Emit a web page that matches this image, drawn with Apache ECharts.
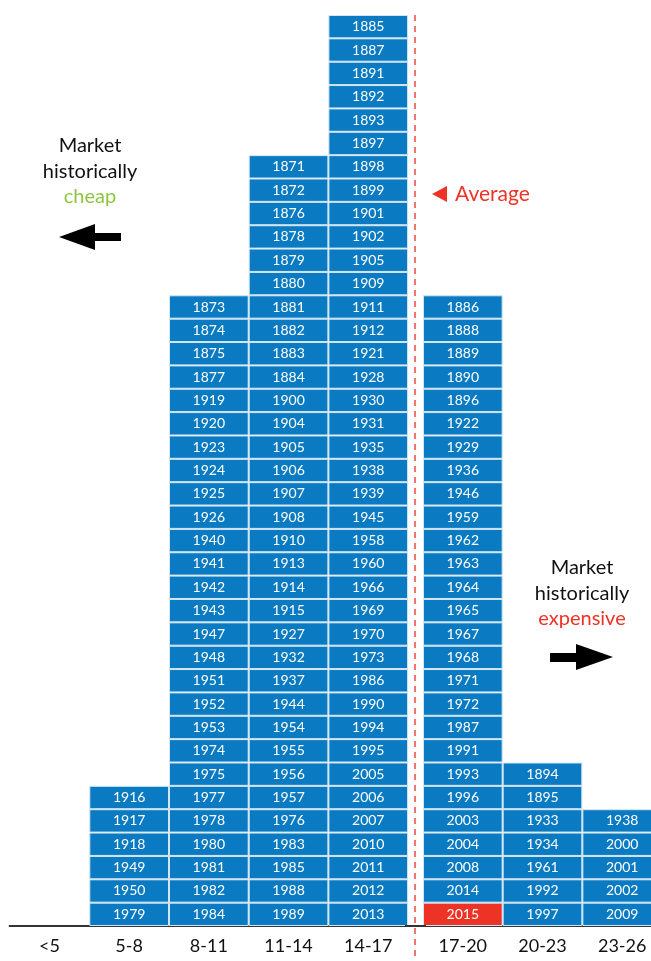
<!DOCTYPE html>
<html>
<head>
<meta charset="utf-8">
<script src="https://cdn.jsdelivr.net/npm/echarts@6/dist/echarts.min.js"></script>
<style>html,body{margin:0;padding:0;background:#fff;}#c{width:651px;height:961px;}</style>
</head>
<body>
<div id="c"></div>
<script>
// Categories (left of the average line, right of the average line)
const leftCategories = ['<5', '5-8', '8-11', '11-14', '14-17'];
const rightCategories = ['17-20', '20-23', '23-26'];

// Years in each bucket, listed from bottom of the stack to top
const yearsLt5 = [];
const years5to8 = [1979, 1950, 1949, 1918, 1917, 1916];
const years8to11 = [1984, 1982, 1981, 1980, 1978, 1977, 1975, 1974, 1953, 1952, 1951, 1948, 1947, 1943, 1942, 1941, 1940, 1926, 1925, 1924, 1923, 1920, 1919, 1877, 1875, 1874, 1873];
const years11to14 = [1989, 1988, 1985, 1983, 1976, 1957, 1956, 1955, 1954, 1944, 1937, 1932, 1927, 1915, 1914, 1913, 1910, 1908, 1907, 1906, 1905, 1904, 1900, 1884, 1883, 1882, 1881, 1880, 1879, 1878, 1876, 1872, 1871];
const years14to17 = [2013, 2012, 2011, 2010, 2007, 2006, 2005, 1995, 1994, 1990, 1986, 1973, 1970, 1969, 1966, 1960, 1958, 1945, 1939, 1938, 1935, 1931, 1930, 1928, 1921, 1912, 1911, 1909, 1905, 1902, 1901, 1899, 1898, 1897, 1893, 1892, 1891, 1887, 1885];
const years17to20 = [2015, 2014, 2008, 2004, 2003, 1996, 1993, 1991, 1987, 1972, 1971, 1968, 1967, 1965, 1964, 1963, 1962, 1959, 1946, 1936, 1929, 1922, 1896, 1890, 1889, 1888, 1886];
const years20to23 = [1997, 1992, 1961, 1934, 1933, 1895, 1894];
const years23to26 = [2009, 2002, 2001, 2000, 1938];

const highlightYear = 2015;

const leftColumns = [yearsLt5, years5to8, years8to11, years11to14, years14to17];
const rightColumns = [years17to20, years20to23, years23to26];

const BLUE = '#0a7bc2';
const RED = '#ec3326';
const FONT = 'Lato';

function buildSeries(columns, axisIndex, stackName) {
  const maxRows = Math.max(...columns.map(c => c.length));
  const out = [];
  for (let r = 0; r < maxRows; r++) {
    out.push({
      type: 'bar',
      stack: stackName,
      xAxisIndex: axisIndex,
      yAxisIndex: axisIndex,
      barCategoryGap: '0%',
      silent: true,
      animation: false,
      itemStyle: { color: BLUE, borderColor: '#d4e6f4', borderWidth: 1 },
      label: {
        show: true,
        position: 'inside',
        color: '#ffffff',
        fontSize: 14,
        fontFamily: FONT,
        formatter: p => p.name
      },
      data: columns.map(col => {
        if (r >= col.length) return '-';
        const y = col[r];
        const d = { value: 1, name: String(y) };
        if (y === highlightYear && col === years17to20) d.itemStyle = { color: RED };
        return d;
      })
    });
  }
  return out;
}

const axisLabelStyle = { color: '#111', fontSize: 18, fontFamily: FONT, margin: 11 };

const chart = echarts.init(document.getElementById('c'));
chart.setOption({
  backgroundColor: '#ffffff',
  animation: false,
  grid: [
    { left: 9.6, width: 398.5, top: 15, bottom: 35, outerBoundsMode: 'none' },
    { left: 423, width: 239, top: 15, bottom: 35, outerBoundsMode: 'none' }
  ],
  xAxis: [
    { type: 'category', gridIndex: 0, data: leftCategories,
      axisLine: { lineStyle: { color: '#333', width: 2 } }, axisTick: { show: false },
      axisLabel: axisLabelStyle },
    { type: 'category', gridIndex: 1, data: rightCategories,
      axisLine: { lineStyle: { color: '#333', width: 2 } }, axisTick: { show: false },
      axisLabel: axisLabelStyle }
  ],
  yAxis: [
    { type: 'value', gridIndex: 0, min: 0, max: 39, show: false },
    { type: 'value', gridIndex: 1, min: 0, max: 39, show: false }
  ],
  series: [
    ...buildSeries(leftColumns, 0, 'L'),
    ...buildSeries(rightColumns, 1, 'R')
  ],
  graphic: [
    // axis continuation across the gap
    { type: 'line', shape: { x1: 405, y1: 926, x2: 426, y2: 926 }, style: { stroke: '#333', lineWidth: 2 }, z: 5 },
    // average line
    { type: 'line', shape: { x1: 415, y1: 15, x2: 415, y2: 961 }, style: { stroke: '#ea4a40', lineWidth: 1.5, lineDash: [6, 5] }, z: 10 },
    { type: 'polygon', shape: { points: [[447, 186], [447, 202], [432, 194]] }, style: { fill: RED }, z: 10 },
    { type: 'text', x: 455, y: 194, style: { text: 'Average', fill: RED, fontSize: 21, fontFamily: FONT, verticalAlign: 'middle' }, z: 10 },
    // cheap annotation
    { type: 'text', x: 90, y: 146, style: { text: 'Market', fill: '#111', fontSize: 20, fontFamily: FONT, align: 'center', verticalAlign: 'middle' } },
    { type: 'text', x: 90, y: 172, style: { text: 'historically', fill: '#111', fontSize: 20, fontFamily: FONT, align: 'center', verticalAlign: 'middle' } },
    { type: 'text', x: 90, y: 197, style: { text: 'cheap', fill: '#8cc63f', fontSize: 20, fontFamily: FONT, align: 'center', verticalAlign: 'middle' } },
    { type: 'polygon', shape: { points: [[59, 237], [95, 224], [95, 233], [121, 233], [121, 241], [95, 241], [95, 250]] }, style: { fill: '#000' } },
    // expensive annotation
    { type: 'text', x: 582, y: 568, style: { text: 'Market', fill: '#111', fontSize: 20, fontFamily: FONT, align: 'center', verticalAlign: 'middle' } },
    { type: 'text', x: 582, y: 594, style: { text: 'historically', fill: '#111', fontSize: 20, fontFamily: FONT, align: 'center', verticalAlign: 'middle' } },
    { type: 'text', x: 582, y: 619, style: { text: 'expensive', fill: RED, fontSize: 20, fontFamily: FONT, align: 'center', verticalAlign: 'middle' } },
    { type: 'polygon', shape: { points: [[613, 657], [576, 644], [576, 653], [550, 653], [550, 662], [576, 662], [576, 670]] }, style: { fill: '#000' } }
  ]
});
</script>
</body>
</html>
